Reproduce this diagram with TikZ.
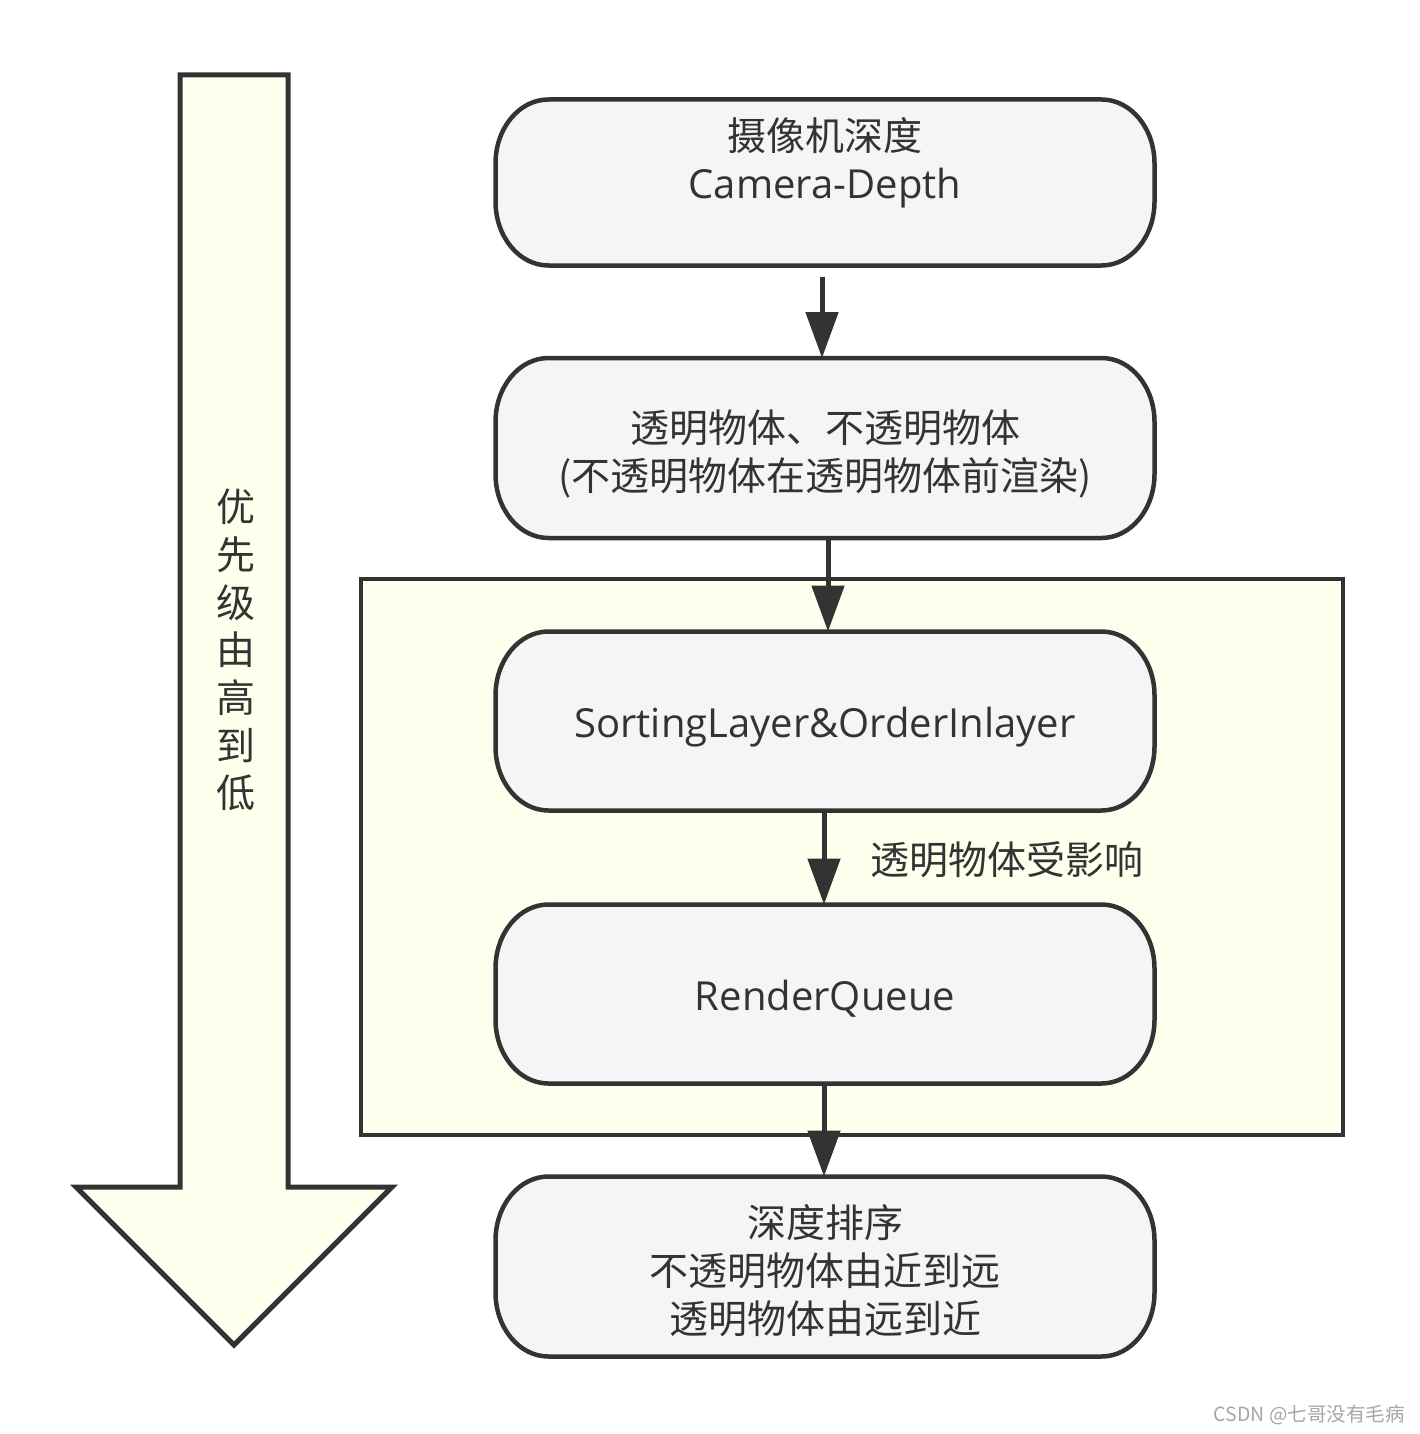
\documentclass[tikz,border=0pt]{standalone}
\usepackage{fontspec}
\newfontfamily\cjk{Noto Sans CJK SC}
\newfontfamily\lat{Open Sans}
\usetikzlibrary{arrows.meta}
\definecolor{ink}{HTML}{333333}
\definecolor{boxfill}{HTML}{F5F5F5}
\definecolor{pale}{HTML}{FFFFEE}
\definecolor{wm}{HTML}{A6A6A6}
\newcommand\latxt{\lat\fontsize{40}{48}\selectfont}
\newcommand\lowline[1]{\raisebox{-16pt}[0pt][0pt]{#1}}
\pgfdeclarelayer{bgA}
\pgfdeclarelayer{bgB}
\pgfsetlayers{bgA,bgB,main}
\newcommand\stadiumbox[1]{%
  \begin{pgfonlayer}{bgB}
  \draw[boxline] ([xshift=53pt]#1.north west) -- ([xshift=-53pt]#1.north east)
    arc[start angle=90,end angle=0,x radius=53pt,y radius=64pt]
    -- ([yshift=64pt]#1.south east)
    arc[start angle=0,end angle=-90,x radius=53pt,y radius=64pt]
    -- ([xshift=53pt]#1.south west)
    arc[start angle=270,end angle=180,x radius=53pt,y radius=64pt]
    -- ([yshift=-64pt]#1.north west)
    arc[start angle=180,end angle=90,x radius=53pt,y radius=64pt] -- cycle;
  \end{pgfonlayer}}
\begin{document}
\begin{tikzpicture}[x=1pt,y=1pt,
  boxline/.style={draw=ink, line width=4.5pt, fill=boxfill},
  boxnode/.style={rectangle, minimum width=659pt, inner sep=0pt, outer sep=0pt,
    align=center, text=ink, font=\cjk\fontsize{39}{48}\selectfont},
  flow/.style={draw=ink, line width=5pt, -{Triangle[width=32pt,length=46pt]}},
  txt/.style={text=ink, inner sep=0pt, font=\cjk\fontsize{39}{48}\selectfont},
  bigarrow/.style={draw=ink, line width=5pt, fill=pale, line join=miter},
  group/.style={draw=ink, line width=4.5pt, fill=pale, rectangle, inner sep=0pt, outer sep=0pt}]
\useasboundingbox (0,0) rectangle (1419,-1434);

% group container
\begin{pgfonlayer}{bgA}
\fill[white] (0,0) rectangle (1419,-1434);
\node[group, minimum width=982pt, minimum height=556pt] (grp) at (852,-857) {};
\end{pgfonlayer}

% big priority arrow
\draw[bigarrow] (180,-75) -- (288,-75) -- (288,-1187) -- (392,-1187) -- (234,-1345)
  -- (76,-1187) -- (180,-1187) -- cycle;
\node[txt, align=center, font=\cjk\fontsize{39}{47.7}\selectfont] (prio) at (236,-650)
  {优\\先\\级\\由\\高\\到\\低};

% flow boxes
\node[boxnode, minimum height=166pt] (b1) at (825,-182.5)
  {摄像机深度\\{\latxt Camera-Depth}\\\mbox{}};
\node[boxnode, minimum height=180pt] (b2) at (825,-448)
  {\rule{0pt}{44pt}透明物体、不透明物体\\(不透明物体在透明物体前渲染)};
\node[boxnode, minimum height=179pt] (b3) at (825,-721)
  {\lowline{\latxt SortingLayer\&OrderInlayer}};
\node[boxnode, minimum height=179pt] (b4) at (825,-994)
  {\lowline{\latxt RenderQueue}};
\node[boxnode, minimum height=180pt] (b5) at (825,-1266.5)
  {\rule{0pt}{42pt}深度排序\\不透明物体由近到远\\透明物体由远到近};
\stadiumbox{b1}
\stadiumbox{b2}
\stadiumbox{b3}
\stadiumbox{b4}
\stadiumbox{b5}

% connectors
\draw[flow] ([xshift=-3pt,yshift=-11pt]b1.south) -- ([xshift=-3pt]b2.north);
\draw[flow] ([xshift=3pt]b2.south) -- ([xshift=3pt]b3.north);
\draw[flow] ([xshift=-1pt]b3.south) -- ([xshift=-1pt]b4.north);
\draw[flow] ([xshift=-1pt]b4.south) -- ([xshift=-1pt]b5.north);
\node[txt, anchor=west] (lbl) at (870,-860) {透明物体受影响};

% watermark
\node[inner sep=0pt, text=wm, font=\cjk\fontsize{19.5}{22}\selectfont, anchor=east] (mark) at (1405,-1415)
  {CSDN @七哥没有毛病};
\end{tikzpicture}
\end{document}
